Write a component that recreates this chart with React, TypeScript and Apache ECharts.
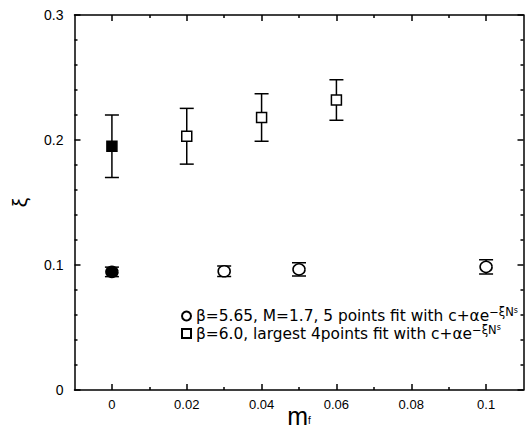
import React, { useEffect, useRef } from "react";
import * as echarts from "echarts";

const FONT = "'Liberation Sans', Arial, Helvetica, sans-serif";
const LFONT = "'DejaVu Sans', 'Liberation Sans', Arial, sans-serif";

// beta = 5.65 series (circles)
const circleX = [0, 0.03, 0.05, 0.1];
const circleY = [0.0945, 0.095, 0.0965, 0.0985];
const circleErr = [0.0038, 0.0042, 0.0053, 0.0057];

// beta = 6.0 series (squares)
const squareX = [0, 0.02, 0.04, 0.06];
const squareY = [0.195, 0.203, 0.218, 0.232];
const squareErr = [0.025, 0.0223, 0.019, 0.0162];

const xMajorTicks = [0, 0.02, 0.04, 0.06, 0.08, 0.1];
const xMinorTicks = [0.01, 0.03, 0.05, 0.07, 0.09];

const circleName = "β=5.65, M=1.7, 5 points fit with c+αe";
const squareName = "β=6.0, largest 4points fit with c+αe";

export default function App() {
  const ref = useRef<HTMLDivElement>(null);
  useEffect(() => {
    if (!ref.current) return;
    const chart = echarts.init(ref.current, undefined, { renderer: "svg" });

    const errRender = (params: any, api: any) => {
      const x = api.value(0);
      const lo = api.coord([x, api.value(1)]);
      const hi = api.coord([x, api.value(2)]);
      const w = 7;
      const st = { stroke: "#000", lineWidth: 1.5 };
      return {
        type: "group",
        children: [
          { type: "line", shape: { x1: lo[0], y1: lo[1], x2: hi[0], y2: hi[1] }, style: st },
          { type: "line", shape: { x1: lo[0] - w, y1: lo[1], x2: lo[0] + w, y2: lo[1] }, style: st },
          { type: "line", shape: { x1: hi[0] - w, y1: hi[1], x2: hi[0] + w, y2: hi[1] }, style: st },
        ],
      };
    };

    const errData = (xs: number[], ys: number[], es: number[]) =>
      xs.map((x, i) => [x, ys[i] - es[i], ys[i] + es[i]]);

    const ptData = (xs: number[], ys: number[]) =>
      xs.map((x, i) =>
        i === 0
          ? { value: [x, ys[i]], itemStyle: { color: "#000" } }
          : { value: [x, ys[i]] }
      );

    const axisLine = { show: true, onZero: false, lineStyle: { color: "#000", width: 1.5 } };
    const noLine = { show: false, onZero: false };
    const tickStyle = { color: "#000", width: 1.5 };
    const xRange = { type: "value" as const, min: -0.01, max: 0.11 };

    const option: any = {
      animation: false,
      backgroundColor: "#fff",
      grid: { left: 74.5, right: 7.5, top: 15, bottom: 48, containLabel: false, outerBoundsMode: "none" },
      xAxis: [
        {
          ...xRange,
          position: "bottom",
          axisLine,
          axisTick: { show: true, inside: true, length: 6, customValues: xMajorTicks, lineStyle: tickStyle },
          axisLabel: { customValues: xMajorTicks, color: "#000", fontSize: 13, fontFamily: FONT, margin: 8 },
          splitLine: { show: false },
          name: "{m|m}{f|f}",
          nameLocation: "middle",
          nameGap: 17,
          nameMoveOverlap: false,
          nameTextStyle: {
            rich: {
              m: { fontSize: 25, fontFamily: FONT, color: "#000", lineHeight: 18 },
              f: { fontSize: 10, fontFamily: FONT, color: "#000", lineHeight: 6, verticalAlign: "bottom" },
            },
          },
        },
        {
          ...xRange,
          position: "bottom",
          axisLine: noLine,
          axisTick: { show: true, inside: true, length: 3, customValues: xMinorTicks, lineStyle: tickStyle },
          axisLabel: { show: false },
          splitLine: { show: false },
        },
        {
          ...xRange,
          position: "top",
          axisLine,
          axisTick: { show: true, inside: true, length: 6, customValues: xMajorTicks, lineStyle: tickStyle },
          axisLabel: { show: false },
          splitLine: { show: false },
        },
        {
          ...xRange,
          position: "top",
          axisLine: noLine,
          axisTick: { show: true, inside: true, length: 3, customValues: xMinorTicks, lineStyle: tickStyle },
          axisLabel: { show: false },
          splitLine: { show: false },
        },
      ],
      yAxis: [
        {
          type: "value",
          min: 0,
          max: 0.3,
          interval: 0.1,
          position: "left",
          axisLine,
          axisTick: { show: true, inside: true, length: 6, lineStyle: tickStyle },
          minorTick: { show: true, splitNumber: 5, length: 3, lineStyle: tickStyle },
          axisLabel: { color: "#000", fontSize: 14, fontFamily: FONT, margin: 11 },
          splitLine: { show: false },
          name: "ξ",
          nameLocation: "middle",
          nameGap: 45,
          nameRotate: 90,
          nameMoveOverlap: false,
          nameTextStyle: { fontSize: 21, fontFamily: FONT, color: "#000" },
        },
        {
          type: "value",
          min: 0,
          max: 0.3,
          interval: 0.1,
          position: "right",
          axisLine,
          axisTick: { show: true, inside: true, length: 6, lineStyle: tickStyle },
          minorTick: { show: true, splitNumber: 5, length: 3, lineStyle: tickStyle },
          axisLabel: { show: false },
          splitLine: { show: false },
        },
      ],
      legend: {
        orient: "vertical",
        left: 181,
        top: 306,
        padding: 0,
        itemWidth: 9,
        itemHeight: 9,
        itemGap: 0,
        selectedMode: false,
        data: [
          { name: circleName, icon: "circle" },
          { name: squareName, icon: "rect" },
        ],
        formatter: (name: string) => `{t|${name}}{sup|−ξN}{sub|s}`,
        textStyle: {
          color: "#000",
          rich: {
            t: { fontSize: 15.4, fontFamily: LFONT, color: "#000", lineHeight: 20 },
            sup: { fontSize: 11.5, fontFamily: LFONT, color: "#000", lineHeight: 6, verticalAlign: "top" },
            sub: { fontSize: 8, fontFamily: LFONT, color: "#000", lineHeight: 14, verticalAlign: "top" },
          },
        },
      },
      series: [
        {
          type: "custom",
          name: "errC",
          renderItem: errRender,
          data: errData(circleX, circleY, circleErr),
          encode: { x: 0, y: [1, 2] },
          z: 1,
          silent: true,
        },
        {
          type: "custom",
          name: "errS",
          renderItem: errRender,
          data: errData(squareX, squareY, squareErr),
          encode: { x: 0, y: [1, 2] },
          z: 1,
          silent: true,
        },
        {
          type: "scatter",
          name: circleName,
          symbol: "circle",
          symbolSize: [12, 11],
          itemStyle: { color: "#fff", borderColor: "#000", borderWidth: 1.5, opacity: 1 },
          data: ptData(circleX, circleY),
          z: 3,
        },
        {
          type: "scatter",
          name: squareName,
          symbol: "rect",
          symbolSize: 10,
          itemStyle: { color: "#fff", borderColor: "#000", borderWidth: 1.5, opacity: 1 },
          data: ptData(squareX, squareY),
          z: 3,
        },
      ],
    };
    chart.setOption(option);
    return () => chart.dispose();
  }, []);
  return (
    <div
      ref={ref}
      style={{ position: "fixed", left: 0, top: 0, width: 531, height: 438 }}
    />
  );
}
